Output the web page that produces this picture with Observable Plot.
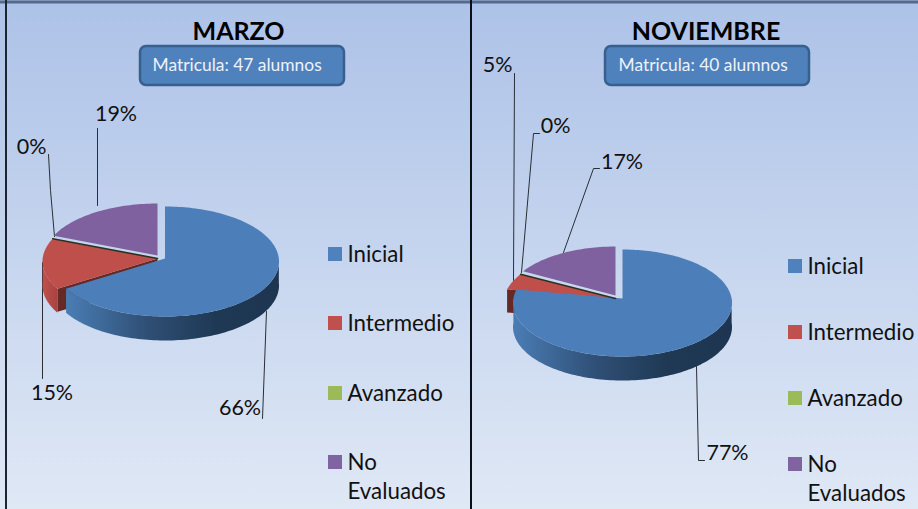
<!DOCTYPE html>
<html><head><meta charset="utf-8">
<script src="https://cdn.jsdelivr.net/npm/d3@7"></script>
<script src="https://cdn.jsdelivr.net/npm/@observablehq/plot@0.6"></script>
<style>
html,body{margin:0;padding:0;width:918px;height:509px;overflow:hidden;background:#c3d3ec}
svg{display:block}
</style></head><body><div id="chart"></div>
<script>
// ---- data ----
const categories = ["Inicial","Intermedio","Avanzado","No Evaluados"];
const marzoValues = [66,15,0,19];
const noviembreValues = [77,5,0,17];
const marzoLabels = ["66%","15%","0%","19%"];
const noviembreLabels = ["77%","5%","0%","17%"];
const panelTitles = ["MARZO","NOVIEMBRE"];
const panelNotes = ["Matricula: 47 alumnos","Matricula: 40 alumnos"];
const topColors = ["#4c7eb9","#bf4f4b","#9bbb59","#7f619f"];
const legendColors = ["#4f81bd","#c0504d","#9bbb59","#8064a2"];

// ---- layout ----
const F = "Lato, 'Open Sans', sans-serif";
const pies = [
 {values:marzoValues,cx:157,redCx:156,blueCx:164.5,cy:261,apex:258,rx:114,ry:55,depth:24},
 {values:noviembreValues,cx:615,redCx:612.5,blueCx:622,cy:302.5,apex:298,rx:109.5,ry:53.5,depth:24}
];
const deg = Math.PI/180;
// point where the ray from the apex (tilted perspective) meets the rim ellipse
function rim(p,c,a,dy=0){
  const d=(p.cy-p.apex)/p.ry, ca=Math.cos(a), sa=Math.sin(a);
  const t=-d*ca+Math.sqrt(d*d*ca*ca-d*d+1);
  return {x:c+p.rx*t*sa,y:p.cy+p.ry*(-d-t*ca)+dy};
}
function arc(p,c,a0,a1,dy=0){const n=Math.max(2,Math.ceil(Math.abs(a1-a0)/(1.5*deg)));
  return d3.range(n+1).map(i=>rim(p,c,a0+(a1-a0)*i/n,dy));}
const polys=[];
function add(fill,pts){polys.push({fill,pts});}
const lineParts=[];
pies.forEach((p,pi)=>{
  const total=d3.sum(p.values);
  let s=0; const ang=p.values.map(v=>{const a=[s,s+v/total*2*Math.PI];s=a[1];return a;});
  const [b,r,g,u]=ang;
  add(topColors[3],[{x:p.cx,y:p.apex-3},...arc(p,p.cx,u[0],u[1],-3)]);
  if(r[0]<1.5*Math.PI){
    const a1=Math.min(r[1],1.5*Math.PI);
    add("url(#redWall)",[...arc(p,p.redCx,r[0],a1),...arc(p,p.redCx,a1,r[0],p.depth)]);
  }
  const e=rim(p,p.redCx,r[0]);
  add("#652a26",[{x:p.cx,y:p.apex},e,{x:e.x,y:e.y+p.depth-1},{x:p.cx,y:p.apex+p.depth}]);
  add(topColors[1],[{x:p.cx,y:p.apex},...arc(p,p.redCx,r[0],r[1])]);
  const z=rim(p,p.redCx,g[0]);
  lineParts.push({k:"z"+pi,pts:[{x:p.cx,y:p.apex},z]});
  const wEnd=Math.min(b[1],1.5*Math.PI);
  add("url(#blueWall)",[...arc(p,p.blueCx,.5*Math.PI,wEnd),...arc(p,p.blueCx,wEnd,.5*Math.PI,p.depth)]);
  add(topColors[0],[{x:p.blueCx,y:p.apex},...arc(p,p.blueCx,b[0],b[1])]);
});
const polyRows=polys.flatMap((q,i)=>q.pts.map(pt=>({...pt,i,fill:q.fill})));
const zeroRows=lineParts.flatMap(l=>l.pts.map(pt=>({...pt,k:l.k})));

// leader lines (annotation layout)
const leaders=[
 [[97,128],[97,205]],
 [[48,154],[50,190],[54,236]],
 [[42,262],[42,378]],
 [[266,311],[262,418]],
 [[514,73],[513,280]],
 [[539,133],[533,133],[521,272]],
 [[599,168],[593,168],[563,252]],
 [[696,366],[698,460],[704,460]]
];
const leaderRows=leaders.flatMap((l,i)=>l.map(([x,y])=>({x,y,i})));
const labelRows=[
 {t:marzoLabels[3],x:115.5,y:114},{t:marzoLabels[2],x:31,y:147},
 {t:marzoLabels[1],x:51.5,y:393},{t:marzoLabels[0],x:239.5,y:408},
 {t:noviembreLabels[1],x:497,y:65},{t:noviembreLabels[2],x:555,y:126},
 {t:noviembreLabels[3],x:621.5,y:162},{t:noviembreLabels[0],x:727,y:453}
];
const legendX=[328,788], legendY=[[254,323,393,462],[266,332,398,464]];
const legendRows=[];const legendText=[];
legendX.forEach((lx,pi)=>categories.forEach((c,i)=>{
  const y=legendY[pi][i];
  legendRows.push({x1:lx,x2:lx+14,y1:y-7,y2:y+7,fill:legendColors[i]});
  const parts=c==="No Evaluados"?["No","Evaluados"]:[c];
  parts.forEach((t,j)=>legendText.push({t,x:lx+20,y:y+j*29}));
}));
const panelRows=[{x:238,t:panelTitles[0],note:panelNotes[0],x1:140,x2:344,nx:152},
                 {x:705.5,t:panelTitles[1],note:panelNotes[1],x1:605,x2:809,nx:618}];

const defs=()=>{
  const s=d3.create("svg:g");
  const d=s.append("defs");
  const mk=(id,stops,attrs)=>{const g=d.append("linearGradient").attr("id",id);
    Object.entries(attrs||{}).forEach(([k,v])=>g.attr(k,v));
    stops.forEach(([o,c])=>g.append("stop").attr("offset",o).attr("stop-color",c));};
  mk("blueWall",[[0,"#1d3550"],[.3,"#1f3955"],[.62,"#2f4f75"],[1,"#4a7db5"]],{x1:1,x2:0,y1:0,y2:0});
  mk("redWall",[[0,"#c0504d"],[1,"#a8423f"]],{x1:0,x2:1,y1:0,y2:0});
  mk("bg",[[0,"#adc2e8"],[1,"#dfe8f5"]],{x1:0,x2:0,y1:0,y2:1});
  return s.node();
};

const plot=Plot.plot({
  width:918,height:509,margin:0,
  x:{domain:[0,918],range:[0,918],axis:null},
  y:{domain:[0,509],range:[0,509],axis:null},
  style:{background:"transparent",fontFamily:F},
  marks:[
    defs,
    Plot.rect([{}],{x1:0,x2:918,y1:0,y2:509,fill:"url(#bg)"}),
    Plot.ruleY([1.5],{stroke:"#55698a",strokeWidth:3}),
    Plot.ruleX([5.5],{stroke:"#1b2433",strokeWidth:2}),
    Plot.ruleX([470.5],{stroke:"#0b0f18",strokeWidth:2}),
    Plot.line(leaderRows,{x:"x",y:"y",z:"i",stroke:"#2a2f36",strokeWidth:1,curve:"linear"}),
    Plot.line(polyRows,{x:"x",y:"y",z:"i",fill:"fill",stroke:"none",curve:"linear-closed"}),
    Plot.line(zeroRows,{x:"x",y:"y",z:"k",stroke:"#2a3320",strokeWidth:1.6,curve:"linear"}),
    Plot.rect(panelRows,{x1:"x1",x2:"x2",y1:()=>46,y2:()=>85,rx:6,fill:"#4f81bd",stroke:"#38608f",strokeWidth:2.5}),
    Plot.text(panelRows,{x:"x",y:()=>31,text:"t",fontSize:25,fontWeight:700,fill:"#000",fontFamily:F}),
    Plot.text(panelRows,{x:"nx",y:()=>65,text:"note",textAnchor:"start",fontSize:17.4,fill:"#edf2fa",fontFamily:F}),
    Plot.text(labelRows,{x:"x",y:"y",text:"t",fontSize:21.5,fill:"#111",fontFamily:F}),
    Plot.rect(legendRows,{x1:"x1",x2:"x2",y1:"y1",y2:"y2",fill:"fill"}),
    Plot.text(legendText,{x:d=>d.x-1,y:"y",text:"t",textAnchor:"start",fontSize:22.3,fill:"#111",fontFamily:F})
  ]
});
document.getElementById("chart").appendChild(plot);
</script></body></html>
